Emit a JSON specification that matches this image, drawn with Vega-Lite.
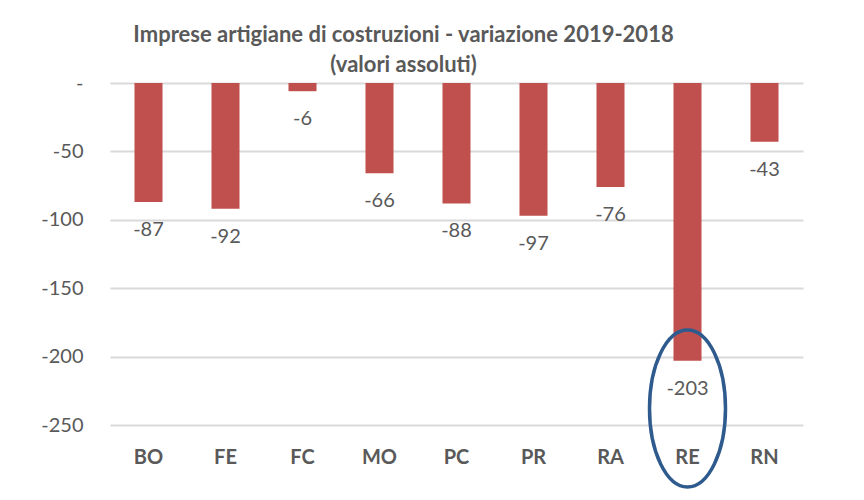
{
  "$schema": "https://vega.github.io/schema/vega-lite/v6.json",
  "width": 693,
  "height": 342,
  "autosize": {"type": "none"},
  "padding": {"left": 110, "top": 83, "right": 61, "bottom": 75},
  "background": "white",
  "config": {
    "view": {"stroke": null},
    "font": "Lato",
    "locale": {"number": {"decimal": ".", "thousands": ",", "grouping": [3], "currency": ["", ""], "minus": "-"}}
  },
  "title": {
    "text": ["Imprese artigiane di costruzioni - variazione 2019-2018", "(valori assoluti)"],
    "frame": "group",
    "anchor": "middle",
    "dx": -53,
    "offset": -4,
    "font": "Lato",
    "fontSize": 22,
    "fontWeight": "bold",
    "color": "#595959",
    "lineHeight": 30
  },
  "datasets": {
    "bars": [
      {"provincia": "BO", "variazione": -87},
      {"provincia": "FE", "variazione": -92},
      {"provincia": "FC", "variazione": -6},
      {"provincia": "MO", "variazione": -66},
      {"provincia": "PC", "variazione": -88},
      {"provincia": "PR", "variazione": -97},
      {"provincia": "RA", "variazione": -76},
      {"provincia": "RE", "variazione": -203},
      {"provincia": "RN", "variazione": -43}
    ],
    "highlight": [
      {"provincia": "RE", "centro": -238}
    ]
  },
  "layer": [
    {
      "data": {"name": "bars"},
      "mark": {"type": "bar", "color": "#C0504D"},
      "encoding": {
        "x": {
          "field": "provincia",
          "type": "nominal",
          "sort": null,
          "scale": {"paddingInner": 0.636, "paddingOuter": 0.318},
          "axis": {
            "title": null,
            "domain": false,
            "ticks": false,
            "labelAngle": 0,
            "labelFont": "Lato",
            "labelFontSize": 20,
            "labelFontWeight": "bold",
            "labelColor": "#595959",
            "labelBaseline": "middle",
            "labelPadding": 32
          }
        },
        "y": {
          "field": "variazione",
          "type": "quantitative",
          "scale": {"domain": [-250, 0], "nice": false},
          "axis": {
            "title": null,
            "domain": false,
            "ticks": false,
            "values": [-250, -200, -150, -100, -50, 0],
            "labelExpr": "datum.value == 0 ? '-' : format(datum.value, 'd')",
            "labelFont": "Lato",
            "labelFontSize": 20,
            "labelColor": "#595959",
            "labelPadding": 27,
            "gridColor": "#D9D9D9",
            "gridWidth": 2,
            "encode": {"labels": {"update": {"dx": {"signal": "datum.value == 0 ? -11 : 0"}}}}
          }
        }
      }
    },
    {
      "data": {"name": "bars"},
      "mark": {"type": "text", "baseline": "middle", "dy": 28, "font": "Lato", "fontSize": 20, "color": "#595959"},
      "encoding": {
        "x": {"field": "provincia", "type": "nominal", "sort": null},
        "y": {"field": "variazione", "type": "quantitative"},
        "text": {"field": "variazione", "type": "quantitative", "format": "d"}
      }
    },
    {
      "data": {"name": "highlight"},
      "mark": {
        "type": "point",
        "filled": false,
        "shape": "M0,-1 C0.2673,-1 0.484,-0.5523 0.484,0 C0.484,0.5523 0.2673,1 0,1 C-0.2673,1 -0.484,0.5523 -0.484,0 C-0.484,-0.5523 -0.2673,-1 0,-1 Z",
        "size": 24649,
        "stroke": "#2F5A8E",
        "strokeWidth": 3.5,
        "opacity": 1
      },
      "encoding": {
        "x": {"field": "provincia", "type": "nominal", "sort": null},
        "y": {"field": "centro", "type": "quantitative"}
      }
    }
  ]
}
